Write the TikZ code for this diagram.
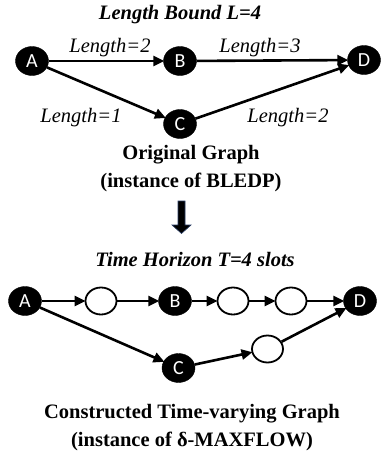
\documentclass[tikz,border=0pt]{standalone}
\usepackage{fontspec}
\setmainfont{Liberation Serif}
\newfontfamily\nodefont{Carlito}
\usetikzlibrary{shapes.geometric,arrows.meta}
\begin{document}
\begin{tikzpicture}[x=1pt,y=-1pt,
  txt/.style={font=\fontsize{20.5}{24}\selectfont, inner sep=0pt},
  bt/.style={txt, font=\fontsize{20.5}{24}\selectfont\bfseries},
  bit/.style={txt, font=\fontsize{20.5}{24}\selectfont\bfseries\itshape},
  it/.style={txt, font=\fontsize{20.5}{24}\selectfont\itshape},
  vtx/.style={ellipse, fill=black, draw=black, minimum width=33pt, minimum height=29pt, inner sep=0pt, text=white, font=\nodefont\fontsize{20}{22}\selectfont},
  slot/.style={ellipse, fill=white, draw=black, line width=1.8pt, minimum width=31pt, minimum height=27pt, inner sep=0pt},
  edge/.style={line width=2.6pt, -{Triangle[length=11pt,width=10pt]}, shorten >=-1pt},
  pln/.style={line width=2.6pt}]
\useasboundingbox (0,0) rectangle (381,458);
% top graph
\node[bit] (t1) at (180,15) {Length Bound L=4};
\node[vtx] (A) at (32,61) {A};
\node[vtx] (B) at (180,61) {B};
\node[vtx] (D) at (364,60) {D};
\node[vtx] (C) at (180,124) {C};
\draw[edge] (A) -- (B);
\draw[edge] (B) -- (D);
\draw[edge] (A) -- (C);
\draw[edge] (C) -- (D);
\node[it] (l1) at (110,48) {Length=2};
\node[it] (l2) at (260,48) {Length=3};
\node[it] (l3) at (81,118) {Length=1};
\node[it] (l4) at (288,118) {Length=2};
\node[bt] (og) at (191,155) {Original Graph};
\node[bt] (og2) at (191,182) {(instance of BLEDP)};
% block arrow
\path[fill=black, draw={rgb,255:red,40;green,60;blue,100}, line width=0.6pt]
  (178,201) -- (185,201) -- (185,225) -- (191,225) -- (181.5,233.5) -- (172,225) -- (178,225) -- cycle;
\node[bit] (th) at (195,259) {Time Horizon T=4 slots};
% bottom graph
\node[vtx] (A2) at (25,301) {A};
\node[slot] (s1) at (101,301) {};
\node[vtx] (B2) at (175,301) {B};
\node[slot] (s2) at (233,301) {};
\node[slot] (s3) at (291,301) {};
\node[vtx] (D2) at (360,301) {D};
\node[vtx] (C2) at (178.5,368) {C};
\node[slot] (s4) at (267.5,349) {};
\draw[edge] (A2) -- (s1);
\draw[edge] (s1) -- (B2);
\draw[edge] (B2) -- (s2);
\draw[edge] (s2) -- (s3);
\draw[edge] (s3) -- (D2);
\draw[edge] (A2) -- (C2);
\draw[edge] (C2) -- (s4);
\draw[edge] (s4) -- (D2);
\node[bt] (cg) at (192,414) {Constructed Time-varying Graph};
\node[bt] (cg2) at (192,441) {(instance of δ-MAXFLOW)};
\end{tikzpicture}
\end{document}
